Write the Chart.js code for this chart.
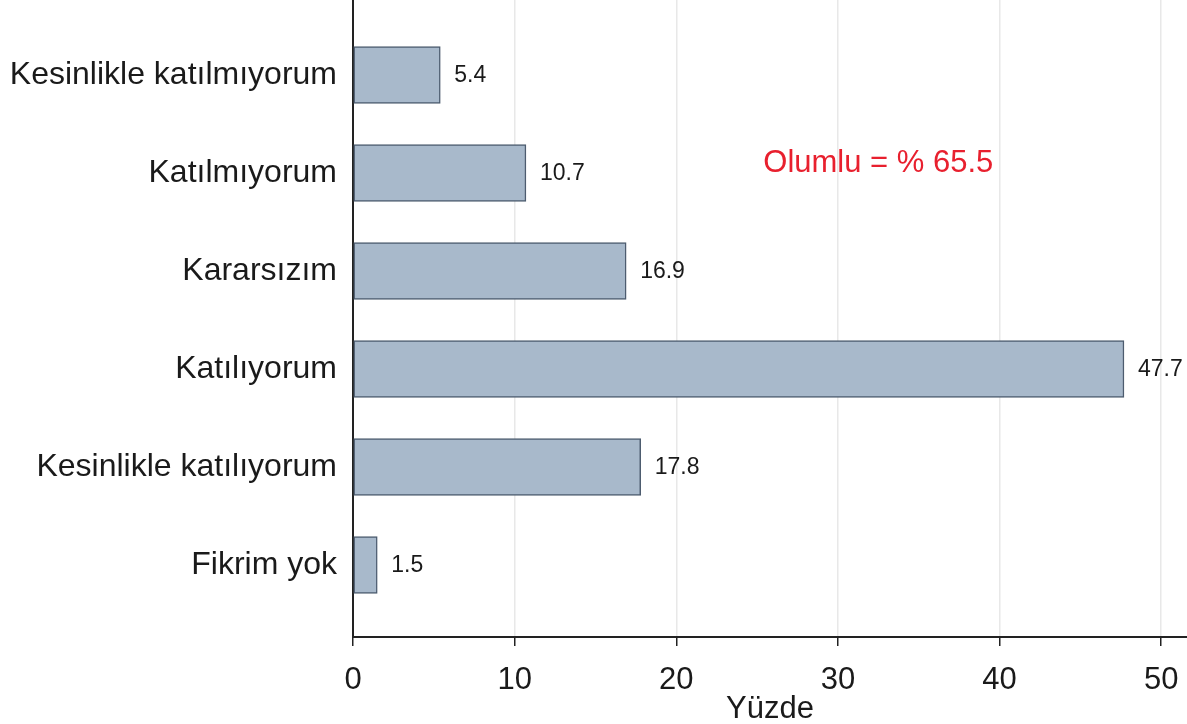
<!DOCTYPE html>
<html>
<head>
<meta charset="utf-8">
<script src="https://cdn.jsdelivr.net/npm/chart.js@4/dist/chart.umd.min.js"></script>
<style>
html,body{margin:0;padding:0;background:#fff;}
#wrap{width:1187px;height:724px;position:relative;}
</style>
</head>
<body>
<div id="wrap"><canvas id="c" width="1187" height="724"></canvas></div>
<script>
const categories = ["Kesinlikle katılmıyorum","Katılmıyorum","Kararsızım","Katılıyorum","Kesinlikle katılıyorum","Fikrim yok"];
const percents = [5.4, 10.7, 16.9, 47.7, 17.8, 1.5];
const xTicks = [0, 10, 20, 30, 40, 50];
const axisTitle = "Yüzde";
const noteText = "Olumlu = % 65.5";
const notePos = {x: 32.5, y: 0.9};

const FONT = "'Liberation Sans', Arial, sans-serif";

const valueLabels = {
  id: 'valueLabels',
  afterDatasetsDraw(chart) {
    const ctx = chart.ctx;
    const meta = chart.getDatasetMeta(0);
    ctx.save();
    ctx.font = "23px " + FONT;
    ctx.fillStyle = "#1a1a1a";
    ctx.textAlign = "left";
    ctx.textBaseline = "middle";
    meta.data.forEach((bar, i) => {
      ctx.fillText(percents[i].toFixed(1), bar.x + 14, bar.y + 1);
    });
    const xs = chart.scales.x, ys = chart.scales.y;
    ctx.font = "31px " + FONT;
    ctx.fillStyle = "#e8202e";
    ctx.textAlign = "center";
    ctx.fillText(noteText, xs.getPixelForValue(notePos.x), ys.getPixelForValue(notePos.y));
    ctx.restore();
  }
};

new Chart(document.getElementById('c'), {
  type: 'bar',
  data: {
    datasets: [{
      data: percents.map((v, i) => ({x: v, y: i})),
      backgroundColor: '#a8b9cb',
      borderColor: '#4d5c6f',
      borderWidth: 1.5,
      borderSkipped: false,
      barThickness: 57
    }]
  },
  options: {
    indexAxis: 'y',
    responsive: false,
    animation: false,
    layout: {padding: 0},
    plugins: {legend: {display: false}, tooltip: {enabled: false}},
    scales: {
      x: {
        type: 'linear',
        min: 0,
        max: 51.6,
        afterBuildTicks: (s) => { s.ticks = xTicks.map(v => ({value: v})); },
        afterFit: (s) => { s.height = 87; s.paddingLeft = 0; s.paddingRight = 0; },
        grid: {color: '#e8e8e8', lineWidth: 1.5, drawTicks: true, tickLength: 9, tickColor: '#222', tickWidth: 1.5},
        border: {display: true, color: '#222', width: 2},
        ticks: {font: {family: FONT, size: 31}, color: '#1a1a1a', padding: 16, maxRotation: 0},
        title: {display: true, text: axisTitle, font: {family: FONT, size: 31}, color: '#1a1a1a', padding: {top: 0, bottom: -4}}
      },
      y: {
        type: 'linear',
        offset: false,
        min: -0.765,
        max: 5.735,
        reverse: true,
        afterBuildTicks: (s) => { s.ticks = categories.map((c, i) => ({value: i})); },
        afterFit: (s) => { s.width = 353; s.paddingTop = 0; s.paddingBottom = 0; },
        grid: {display: false},
        border: {display: true, color: '#222', width: 2},
        ticks: {
          font: {family: FONT, size: 32}, color: '#1a1a1a', padding: 8,
          callback: (v) => categories[v]
        }
      }
    }
  },
  plugins: [valueLabels]
});
</script>
</body>
</html>
